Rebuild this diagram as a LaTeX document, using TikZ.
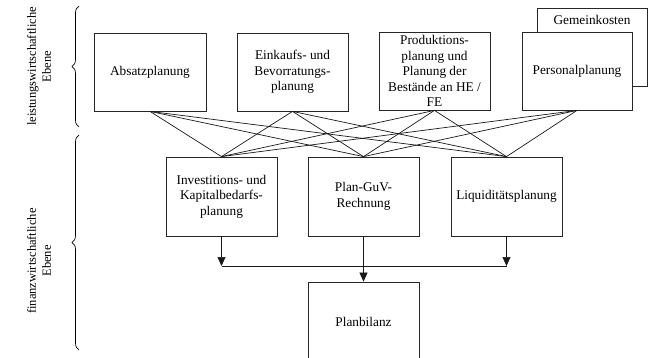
\documentclass[tikz,border=0pt]{standalone}
\usepackage{fontspec}
\setmainfont{Liberation Serif}
\usetikzlibrary{arrows.meta,decorations.pathreplacing}
\begin{document}
\begin{tikzpicture}[x=1pt,y=-1pt,
  box/.style={draw=black!85, line width=0.8pt, fill=white, minimum width=111pt, minimum height=78pt,
    inner sep=2pt, align=center, font=\fontsize{13.3}{15.6}\selectfont},
  lbl/.style={align=center, rotate=90, font=\fontsize{12.5}{15}\selectfont},
  fan/.style={line width=0.7pt, black!90},
  flow/.style={line width=0.7pt, black!90},
  arr/.style={flow, -{Triangle[length=9pt,width=8pt]}},
  brc/.style={line width=0.7pt, decorate, decoration={brace, amplitude=7pt}}]
\useasboundingbox (0,0) rectangle (648,357);
% back box
\node[box, minimum width=110pt] (gk) at (592,47) {};
\node[font=\fontsize{13.3}{15.6}\selectfont, anchor=center] (gkt) at (592,20) {Gemeinkosten};
% top row
\node[box, minimum width=112pt] (b1) at (150,72) {Absatzplanung};
\node[box] (b2) at (292.5,72) {Einkaufs- und\\Bevorratungs-\\planung};
\node[box, font=\fontsize{13.3}{15.6}\selectfont] (b3) at (434.5,71) {Produktions-\\planung und\\Planung der\\Bestände an HE /\\FE};
\node[box, minimum width=110pt] (b4) at (577,71) {Personalplanung};
% middle row
\node[box, minimum height=79pt] (m1) at (221.5,196.5) {Investitions- und\\Kapitalbedarfs-\\planung};
\node[box, minimum height=79pt] (m2) at (363.5,196.5) {Plan-GuV-\\Rechnung};
\node[box, minimum height=79pt] (m3) at (506.5,196.5) {Liquiditätsplanung};
% bottom
\node[box, minimum height=79pt] (pb) at (363.5,321.5) {Planbilanz};
% fan lines
\foreach \t in {b1,b2,b3,b4}{
  \foreach \m in {m1,m2,m3}{
    \draw[fan] (\t.south) -- (\m.north);
  }
}
% flow
\coordinate (j1) at (221.5,266);
\coordinate (j3) at (506.5,266);
\draw[arr] (m1.south) -- (j1);
\draw[arr] (m3.south) -- (j3);
\draw[flow] (j1) -- (j3);
\draw[arr] (m2.south) -- (pb.north);
% braces
\draw[brc] (79,127) -- (79,6);
\draw[brc] (79,350) -- (79,135);
% labels
\node[lbl] (l1) at (39,66.5) {leistungswirtschaftliche\\Ebene};
\node[lbl] (l2) at (39,261) {finanzwirtschaftliche\\Ebene};
\end{tikzpicture}
\end{document}
